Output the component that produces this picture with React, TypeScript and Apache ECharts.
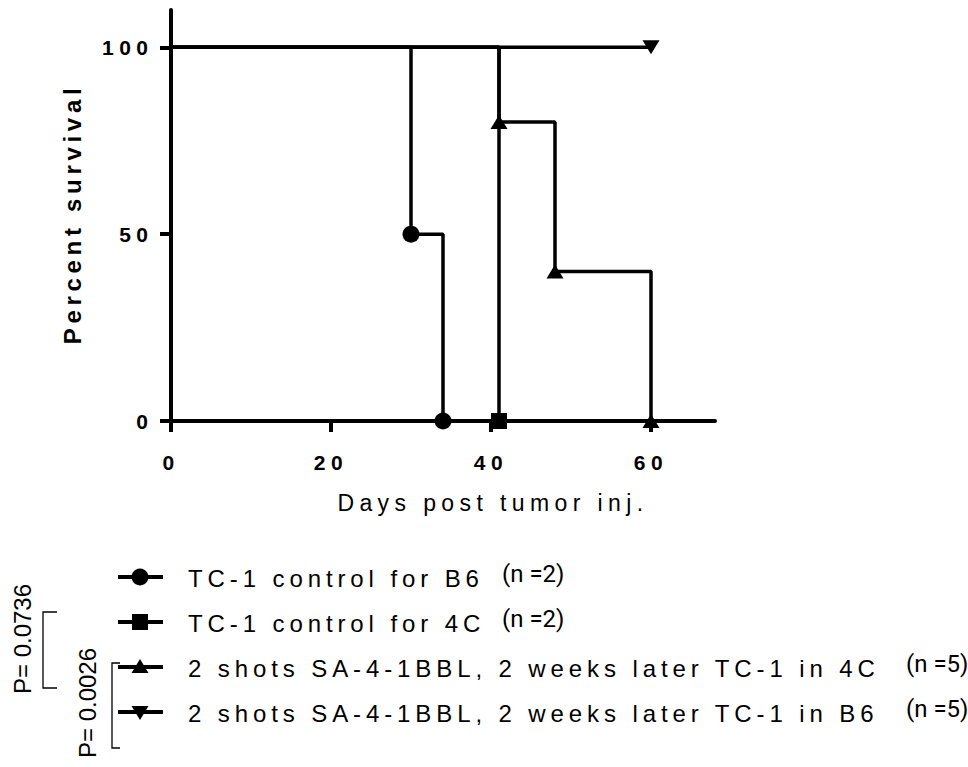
import React, { useEffect, useRef } from "react";
import * as echarts from "echarts";

// ---- data ----
const seriesNames = [
  "TC-1 control for B6",
  "TC-1 control for 4C",
  "2 shots SA-4-1BBL, 2 weeks later TC-1 in 4C",
  "2 shots SA-4-1BBL, 2 weeks later TC-1 in B6",
];
const nLabels = ["(n =2)", "(n =2)", "(n =5)", "(n =5)"];

const daysCtrlB6 = [0, 30, 34];
const survCtrlB6 = [100, 50, 0];
const daysCtrl4C = [0, 41];
const survCtrl4C = [100, 0];
const daysSA4C = [0, 41, 48, 60];
const survSA4C = [100, 80, 40, 0];
const daysSAB6 = [0, 60];
const survSAB6 = [100, 100];

const xTicks = [0, 20, 40, 60];
const yTicks = [0, 50, 100];
const pValues = ["P= 0.0736", "P= 0.0026"];
const xTitle = "Days post tumor inj.";
const yTitle = "Percent survival";

const FONT = "'Liberation Sans', Arial, sans-serif";
const NFONT = "'Liberation Sans Narrow', Roboto, 'Open Sans', sans-serif";

function buildData(days: number[], surv: number[]) {
  return days.map((d, i) =>
    i === 0 ? { value: [d, surv[i]], symbol: "none" } : { value: [d, surv[i]] }
  );
}

export default function App() {
  const ref = useRef<HTMLDivElement>(null);
  useEffect(() => {
    if (!ref.current) return;
    const chart = echarts.init(ref.current, null, { renderer: "svg" });

    const lineStyle = { color: "#000", width: 3.5 };
    const itemStyle = { color: "#000" };
    const symbols: any[] = [
      { symbol: "circle", symbolSize: 17, symbolRotate: 0 },
      { symbol: "rect", symbolSize: 16, symbolRotate: 0 },
      { symbol: "triangle", symbolSize: [17, 14], symbolRotate: 0 },
      { symbol: "triangle", symbolSize: [17, 14], symbolRotate: 180 },
    ];
    const datasets = [
      buildData(daysCtrlB6, survCtrlB6),
      buildData(daysCtrl4C, survCtrl4C),
      buildData(daysSA4C, survSA4C),
      buildData(daysSAB6, survSAB6),
    ];

    const series = datasets.map((data, i) => ({
      type: "line",
      name: seriesNames[i],
      step: "end",
      data,
      ...symbols[i],
      showAllSymbol: true,
      lineStyle,
      itemStyle,
      z: 3,
    }));

    // legend graphics
    const rowY = [577, 622, 667, 712];
    const legendGraphics: any[] = [];
    rowY.forEach((y, i) => {
      legendGraphics.push({
        type: "line",
        shape: { x1: 118, y1: y, x2: 163, y2: y },
        style: { stroke: "#000", lineWidth: 4 },
      });
      if (i === 0) {
        legendGraphics.push({ type: "circle", shape: { cx: 140, cy: y, r: 8.5 }, style: { fill: "#000" } });
      } else if (i === 1) {
        legendGraphics.push({ type: "rect", shape: { x: 132, y: y - 8, width: 16, height: 16 }, style: { fill: "#000" } });
      } else if (i === 2) {
        legendGraphics.push({
          type: "polygon",
          shape: { points: [[140, y - 8], [148.5, y + 6], [131.5, y + 6]] },
          style: { fill: "#000" },
        });
      } else {
        legendGraphics.push({
          type: "polygon",
          shape: { points: [[140, y + 8], [148.5, y - 6], [131.5, y - 6]] },
          style: { fill: "#000" },
        });
      }
      legendGraphics.push({
        type: "text",
        x: 188,
        y: y + 1,
        style: { text: seriesNames[i], fontSize: 24, fontFamily: FONT, fill: "#000", verticalAlign: "middle", align: "left" },
      });
      legendGraphics.push({
        type: "text",
        x: i < 2 ? 502 : 906,
        y: y - 3,
        style: { text: nLabels[i], fontSize: 24, fontFamily: NFONT, fill: "#000", verticalAlign: "middle", align: "left" },
      });
    });

    // p-value brackets
    const brackets: any[] = [
      { type: "polyline", shape: { points: [[57, 612], [43, 612], [43, 688], [57, 688]] }, style: { stroke: "#000", lineWidth: 1.3, fill: null } },
      { type: "polyline", shape: { points: [[120, 663], [112, 663], [112, 748], [120, 748]] }, style: { stroke: "#000", lineWidth: 1.3, fill: null } },
      {
        type: "text", x: 22, y: 639, rotation: Math.PI / 2,
        style: { text: pValues[0], fontSize: 24, fontFamily: FONT, fill: "#000", align: "center", verticalAlign: "middle" },
      },
      {
        type: "text", x: 87, y: 703, rotation: Math.PI / 2,
        style: { text: pValues[1], fontSize: 24, fontFamily: FONT, fill: "#000", align: "center", verticalAlign: "middle" },
      },
    ];

    const titles: any[] = [
      {
        type: "text", x: 72, y: 214, rotation: Math.PI / 2,
        style: { text: yTitle, fontSize: 24, fontWeight: "bold", fontFamily: FONT, fill: "#000", align: "center", verticalAlign: "middle" },
      },
      {
        type: "text", x: 493, y: 503,
        style: { text: xTitle, fontSize: 23, fontFamily: FONT, fill: "#000", align: "center", verticalAlign: "middle" },
      },
    ];

    const axisCommon = {
      axisLine: { show: true, lineStyle: { color: "#000", width: 4 } },
      axisTick: { show: true, length: 11, inside: false, lineStyle: { color: "#000", width: 4 } },
      splitLine: { show: false },
    };

    // letter spacing applied to the rendered SVG texts (reference uses spaced glyphs)
    const spacing: Record<string, number> = {};
    seriesNames.forEach((n) => (spacing[n] = 4.9));
    spacing[xTitle] = 5.4;
    spacing[yTitle] = 4.7;
    [...xTicks, ...yTicks].forEach((v) => (spacing[String(v)] = 5.5));
    const applySpacing = () => {
      const root = ref.current;
      if (!root) return;
      root.querySelectorAll("text").forEach((t) => {
        const s = spacing[t.textContent ?? ""];
        if (s != null) t.setAttribute("letter-spacing", String(s));
      });
    };
    chart.on("finished", applySpacing);

    chart.setOption({
      animation: false,
      backgroundColor: "#fff",
      grid: { left: 171, right: 253, top: 10, bottom: 346, containLabel: false },
      xAxis: {
        type: "value",
        min: 0,
        max: 68,
        ...axisCommon,
        axisTick: { ...axisCommon.axisTick, customValues: xTicks },
        axisLabel: {
          customValues: xTicks,
          margin: 31,
          color: "#000",
          fontFamily: FONT,
          fontWeight: "bold",
          fontSize: 21,
        },
      },
      yAxis: {
        type: "value",
        min: 0,
        max: 110,
        ...axisCommon,
        axisTick: { ...axisCommon.axisTick, customValues: yTicks },
        axisLabel: {
          customValues: yTicks,
          margin: 17.5,
          color: "#000",
          fontFamily: FONT,
          fontWeight: "bold",
          fontSize: 21,
        },
      },
      series,
      graphic: [...legendGraphics, ...brackets, ...titles],
    });
    applySpacing();
    return () => chart.dispose();
  }, []);
  return <div ref={ref} style={{ position: "absolute", left: 0, top: 0, width: 968, height: 767 }} />;
}
